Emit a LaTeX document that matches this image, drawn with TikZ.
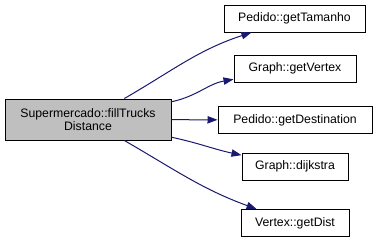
\documentclass[tikz,border=0pt]{standalone}
\usepackage{fontspec}
\setmainfont{Liberation Sans}
\usetikzlibrary{arrows.meta}

\definecolor{callblue}{HTML}{191970}
\definecolor{curgray}{HTML}{BFBFBF}

\tikzset{
	fn/.style={draw=black, line width=0.75pt, fill=white, inner sep=0pt,
		minimum height=20.25pt, font=\fontsize{9.2}{10.2}\selectfont},
	call/.style={draw=callblue, line width=0.75pt,
		-{Triangle[length=7.5pt,width=5.5pt,fill=callblue]}}
}

\begin{document}
\begin{tikzpicture}[x=0.75pt,y=-0.75pt]
		\useasboundingbox (0,0) rectangle (377,240);
		
		\node[fn, fill=curgray, align=center, minimum width=124.5pt, minimum height=30.75pt] (fill) at (88,119.5) {Supermercado::fillTrucks\\Distance};
		
		\node[fn, minimum width=105.75pt] (tam) at (294.5,18.5) {Pedido::getTamanho};
		\node[fn, minimum width=91.5pt] (vtx) at (295,68.5) {Graph::getVertex};
		\node[fn, minimum width=115.5pt] (dest) at (295,120) {Pedido::getDestination};
		\node[fn, minimum width=79.5pt] (dij) at (295,166.5) {Graph::dijkstra};
		\node[fn, minimum width=81pt] (dist) at (295,223) {Vertex::getDist};
		
		\draw[call] (fill) to[out=30, in=198] (tam);
		\draw[call] (fill) to[out=12, in=190] (vtx);
		\draw[call] (fill) -- (dest);
		\draw[call] (fill) to[out=-12, in=168] (dij);
		\draw[call] (fill) to[out=-30, in=160] (dist);

	\end{tikzpicture}
\end{document}
